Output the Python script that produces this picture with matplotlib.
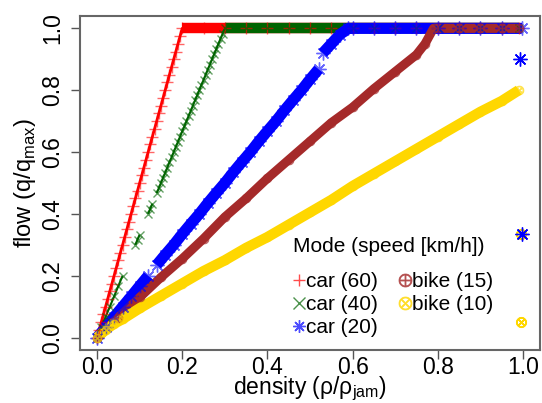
import numpy as np
import matplotlib
matplotlib.use("Agg")
from matplotlib import pyplot as plt
from matplotlib.lines import Line2D

plt.rcParams['font.family'] = ['Liberation Sans', 'DejaVu Sans']
plt.rcParams['mathtext.fontset'] = 'custom'
plt.rcParams['mathtext.rm'] = 'Liberation Sans'

nan = np.nan

# car (60 km/h)
car60_x = [0.000, 0.005, 0.010, 0.015, 0.020, 0.025, 0.030, 0.035, 0.040,
           0.045, 0.050, 0.055, 0.060, 0.065, 0.070, 0.075, 0.080, 0.085,
           0.090, 0.095, 0.100, 0.105, 0.110, 0.115, 0.120, 0.125, 0.130,
           0.135, 0.140, 0.145, 0.150, 0.155, 0.160, 0.165, 0.170, 0.175,
           0.180, 0.185, 0.190, 0.195, 0.200,
           0.25, 0.30, 0.35, 0.40, 0.45, 0.50, 0.55, 0.60, 0.65, 0.70,
           0.75, 0.80, 0.85, 0.90, 0.95, 0.99]
car60_y = [0.000, 0.025, 0.050, 0.075, 0.100, 0.125, 0.150, 0.175, 0.200,
           0.225, 0.250, 0.275, 0.300, 0.325, 0.350, 0.375, 0.400, 0.425,
           0.450, 0.475, 0.500, 0.525, 0.550, 0.575, 0.600, 0.625, 0.650,
           0.675, 0.700, 0.725, 0.750, 0.775, 0.800, 0.825, 0.850, 0.875,
           0.900, 0.925, 0.950, 0.975, 1.000,
           1.00, 1.00, 1.00, 1.00, 1.00, 1.00, 1.00, 1.00, 1.00, 1.00,
           1.00, 1.00, 1.00, 1.00, 1.00, 1.00]

# car (40 km/h)
car40_x = [0.00, 0.01, 0.02, 0.03, 0.04, 0.05, 0.06, nan,
           0.09, 0.095, 0.10, nan, 0.12, 0.125, 0.13, nan,
           0.140, 0.145, 0.150, 0.155, 0.160, 0.165, 0.170, 0.175, 0.180,
           0.185, 0.190, 0.195, 0.200, 0.205, 0.210, 0.215, 0.220, 0.225,
           0.230, 0.235, 0.240, 0.245, 0.250, 0.255, 0.260, 0.265, 0.270,
           0.275, 0.280, 0.285, 0.290, 0.295, 0.300,
           0.35, 0.40, 0.45, 0.50, 0.55, 0.60, 0.65, 0.70, 0.75, 0.80,
           0.85, 0.90, 0.95, 0.99]
car40_y = [0.00, 0.033, 0.067, 0.10, 0.133, 0.167, 0.20, nan,
           0.30, 0.317, 0.333, nan, 0.40, 0.417, 0.433, nan,
           0.467, 0.483, 0.500, 0.517, 0.533, 0.550, 0.567, 0.583, 0.600,
           0.617, 0.633, 0.650, 0.667, 0.683, 0.700, 0.717, 0.733, 0.750,
           0.767, 0.783, 0.800, 0.817, 0.833, 0.850, 0.867, 0.883, 0.900,
           0.917, 0.933, 0.950, 0.967, 0.983, 1.000,
           1.00, 1.00, 1.00, 1.00, 1.00, 1.00, 1.00, 1.00, 1.00, 1.00,
           1.00, 1.00, 1.00, 1.00]

# car (20 km/h)
car20_x = [0.00, 0.02, 0.04, 0.06, 0.08, 0.10, 0.12, nan, 0.14, 0.16, 0.18,
           0.20, 0.22, 0.24, 0.26, 0.28, 0.30, 0.32, 0.34, 0.36, 0.38, 0.40,
           0.42, 0.44, 0.46, 0.48, 0.50, 0.52, nan, 0.53, 0.55, 0.57, 0.59,
           0.60, 0.65, 0.70, 0.75, 0.80, 0.85, 0.90, 0.95, 0.997]
car20_y = [0.00, 0.033, 0.067, 0.10, 0.133, 0.167, 0.20, nan, 0.235, 0.268,
           0.30, 0.335, 0.368, 0.40, 0.435, 0.468, 0.50, 0.535, 0.568, 0.60,
           0.635, 0.668, 0.70, 0.735, 0.768, 0.80, 0.835, 0.868, nan, 0.92,
           0.95, 0.98, 1.00, 1.00, 1.00, 1.00, 1.00, 1.00, 1.00, 1.00, 1.00,
           1.00]
car20_out_x = [0.993, 0.997]
car20_out_y = [0.90, 0.335]

# bike (15 km/h)
bike15_x = [0.00, 0.05, 0.10, 0.15, 0.20, 0.25, 0.30, 0.35, 0.40, 0.45, 0.50,
            0.55, 0.60, 0.65, 0.70, 0.75, 0.77, 0.79, 0.85, 0.90, 0.95, 0.99]
bike15_y = [0.00, 0.065, 0.13, 0.195, 0.255, 0.32, 0.39, 0.45, 0.515, 0.575,
            0.635, 0.695, 0.745, 0.805, 0.86, 0.915, 0.95, 1.00, 1.00, 1.00,
            1.00, 1.00]

# bike (10 km/h)
bike10_x = [0.00, 0.02, 0.04, 0.06, 0.10, 0.15, 0.20, 0.25, 0.30, 0.35, 0.40,
            0.45, 0.50, 0.55, 0.60, 0.65, 0.70, 0.75, 0.80, 0.85, 0.90, 0.95,
            0.99]
bike10_y = [0.00, 0.025, 0.045, 0.06, 0.095, 0.135, 0.175, 0.215, 0.25, 0.29,
            0.325, 0.365, 0.405, 0.445, 0.49, 0.53, 0.57, 0.61, 0.65, 0.69,
            0.73, 0.765, 0.80]
bike10_out_x = [0.995, 0.995]
bike10_out_y = [0.335, 0.05]

x_ticks = [0.0, 0.2, 0.4, 0.6, 0.8, 1.0]
y_ticks = [0.0, 0.2, 0.4, 0.6, 0.8, 1.0]

# name, x, y, colour, marker, marker size, slope width, plateau width
series = [
    ("car (60)", car60_x, car60_y, "red", "+", 9, 2.0, 7.5),
    ("car (40)", car40_x, car40_y, "darkgreen", "x", 6, 1.5, 7.5),
    ("car (20)", car20_x, car20_y, "blue", (8, 2, 0), 10, 8.0, 7.0),
    ("bike (15)", bike15_x, bike15_y, "brown", r"$\oplus$", 6, 6.5, 6.0),
    ("bike (10)", bike10_x, bike10_y, "gold", r"$\otimes$", 6, 7.5, 7.5),
]

fig = plt.figure(figsize=(5.42, 4.03), dpi=100)
ax = fig.add_axes([80 / 542, 1 - 350 / 403, 460 / 542, 334 / 403])

handles = []
for name, xs, ys, col, mk, ms, lw, lw_top in series:
    xs = np.array(xs)
    ys = np.array(ys)
    ax.plot(xs, ys, color=col, lw=lw, solid_capstyle='butt', zorder=2)
    top = ys >= 1.0
    if top.any():
        ax.plot(xs[top], ys[top], color=col, lw=lw_top,
                solid_capstyle='butt', zorder=2)
    ax.plot(xs, ys, ls='none', marker=mk, ms=ms, mew=1.0, color=col,
            alpha=0.6, zorder=3)
    handles.append(Line2D([], [], ls='none', marker=mk, ms=9, mew=1.0,
                          color=col, alpha=0.7, label=name))

ax.plot(car20_out_x, car20_out_y, ls='none', marker=(8, 2, 0), ms=10,
        mew=1.0, color='blue', zorder=4)
ax.plot(bike10_out_x, bike10_out_y, ls='none', marker=r"$\otimes$", ms=7,
        mew=1.0, color='gold', zorder=3)

ax.set_xlim(-0.04, 1.04)
ax.set_ylim(-0.04, 1.04)
ax.set_xticks(x_ticks)
ax.set_yticks(y_ticks)
ax.set_xticklabels([f"{v:.1f}" for v in x_ticks])
ax.set_yticklabels([f"{v:.1f}" for v in y_ticks], rotation=90, va='center')
ax.tick_params(direction='out', length=6.5, width=1.0, color='#555555',
               labelsize=16.5)
ax.tick_params(axis='x', pad=-2.5)
ax.tick_params(axis='y', pad=5)
for s in ax.spines.values():
    s.set_color('#666666')
    s.set_linewidth(1.5)

ax.set_xlabel(r"density (ρ/ρ$_{\mathrm{jam}}$)", fontsize=16.5, labelpad=-2.5)
ax.set_ylabel(r"flow (q/q$_{\mathrm{max}}$)", fontsize=17, labelpad=2)

fig.text(293 / 542, 1 - 246 / 403, "Mode (speed [km/h])", fontsize=15,
         ha='left', va='center')
leg = ax.legend(handles=handles, ncol=2, frameon=False, fontsize=15,
                loc='upper left', bbox_to_anchor=(282 / 542, 1 - 262 / 403),
                bbox_transform=fig.transFigure, borderpad=0,
                handlelength=0.6, handletextpad=0.05, columnspacing=1.0,
                labelspacing=0.19)

fig.savefig("out.png", dpi=100)
plt.close(fig)
